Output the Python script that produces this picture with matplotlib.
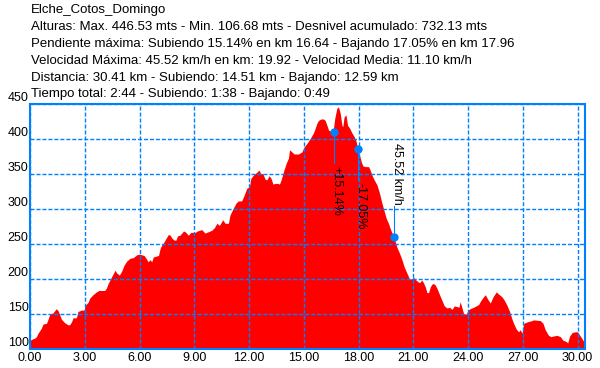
import matplotlib
matplotlib.use("Agg")
import matplotlib.pyplot as plt

plt.rcParams["font.family"] = ["Liberation Sans", "DejaVu Sans"]

title_lines = [
    "Elche_Cotos_Domingo",
    "Alturas: Max. 446.53 mts - Min. 106.68 mts - Desnivel acumulado: 732.13 mts",
    "Pendiente máxima: Subiendo 15.14% en km 16.64 - Bajando 17.05% en km 17.96",
    "Velocidad Máxima: 45.52 km/h en km: 19.92 - Velocidad Media: 11.10 km/h",
    "Distancia: 30.41 km - Subiendo: 14.51 km - Bajando: 12.59 km",
    "Tiempo total: 2:44 - Subiendo: 1:38 - Bajando: 0:49",
]

# distance (km) and altitude (m)
km = [0.00, 0.07, 0.26, 0.35, 0.44, 0.62, 0.71, 0.90, 0.99, 1.08, 1.26, 1.44, 1.54, 1.63,
      1.72, 1.90, 2.08, 2.17, 2.27, 2.36, 2.54, 2.63, 2.81, 2.96, 3.03, 3.18, 3.27, 3.45,
      3.64, 3.77, 4.09, 4.18, 4.28, 4.48, 4.66, 4.75, 4.90, 5.03, 5.15, 5.30, 5.48, 5.66,
      5.85, 6.00, 6.12, 6.25, 6.36, 6.47, 6.58, 6.67, 6.76, 7.04, 7.13, 7.22, 7.31, 7.40,
      7.58, 7.68, 7.77, 7.89, 8.00, 8.08, 8.22, 8.41, 8.50, 8.68, 8.81, 9.05, 9.17, 9.41,
      9.59, 9.78, 9.96, 10.11, 10.24, 10.38, 10.56, 10.69, 10.87, 10.96, 11.15, 11.29,
      11.42, 11.60, 11.70, 11.88, 12.02, 12.10, 12.24, 12.43, 12.54, 12.65, 12.76, 12.88,
      12.98, 13.10, 13.21, 13.31, 13.43, 13.58, 13.67, 13.76, 13.89, 14.04, 14.16, 14.22,
      14.35, 14.47, 14.71, 14.90, 15.02, 15.17, 15.35, 15.53, 15.63, 15.72, 15.81, 15.94,
      16.08, 16.17, 16.27, 16.36, 16.45, 16.60, 16.70, 16.81, 16.90, 17.00, 17.09, 17.14,
      17.21, 17.31, 17.40, 17.51, 17.64, 17.76, 17.87, 17.95, 18.05, 18.15, 18.24, 18.37,
      18.55, 18.64, 18.73, 18.86, 19.01, 19.15, 19.28, 19.41, 19.52, 19.64, 19.77, 19.92,
      20.01, 20.10, 20.25, 20.38, 20.50, 20.65, 20.80, 20.93, 21.02, 21.10, 21.24, 21.34,
      21.47, 21.56, 21.66, 21.75, 21.84, 21.93, 22.02, 22.11, 22.20, 22.30, 22.44, 22.57,
      22.70, 22.85, 22.99, 23.12, 23.25, 23.40, 23.50, 23.57, 23.66, 23.76, 23.90, 24.00,
      24.12, 24.30, 24.45, 24.58, 24.71, 24.85, 24.95, 25.07, 25.22, 25.37, 25.55, 25.67,
      25.86, 25.99, 26.13, 26.28, 26.41, 26.50, 26.64, 26.77, 26.86, 26.96, 27.05, 27.23,
      27.50, 27.59, 27.96, 28.11, 28.23, 28.41, 28.54, 28.69, 28.87, 29.06, 29.20, 29.39,
      29.46, 29.57, 29.71, 29.88, 30.00, 30.15, 30.30, 30.41]
alt = [112, 114, 116, 118, 123, 130, 136, 137, 143, 150, 152, 158, 155, 149,
       143, 138, 135, 135, 139, 145, 145, 154, 156, 156, 163, 167, 173, 178,
       182, 184, 184, 187, 194, 204, 213, 209, 206, 212, 220, 226, 230, 231,
       235, 236, 235, 234, 230, 225, 228, 225, 232, 234, 244, 249, 252, 256,
       264, 263, 259, 256, 256, 262, 263, 269, 268, 263, 267, 267, 269, 271,
       266, 268, 270, 274, 280, 277, 285, 280, 280, 292, 302, 309,
       312, 312, 318, 330, 332, 344, 349, 353, 356, 351, 351, 343,
       342, 348, 344, 336, 337, 337, 336, 342, 354, 366, 373, 385,
       382, 379, 379, 382, 389, 394, 401, 409, 416, 423, 427, 429,
       429, 427, 420, 413, 412, 410, 430, 444, 446.5, 437, 420, 418,
       432, 435, 420, 416, 409, 404, 397, 387, 378, 368, 362, 361,
       361, 356, 349, 342, 335, 323, 309, 297, 287, 280, 270, 262,
       254, 246, 237, 228, 218, 209, 200, 201, 203, 200, 197, 195,
       199, 195, 189, 181, 181, 189, 193, 194, 192, 187, 178, 170,
       162, 159, 160, 157, 162, 161, 160, 168, 160, 151, 150, 156,
       158, 160, 162, 164, 170, 175, 178, 172, 166, 175, 182, 179,
       175, 170, 163, 154, 143, 137, 129, 125, 128, 123, 137, 139,
       141, 142, 141, 137, 128, 120, 118, 119, 120, 118, 113, 111,
       109, 119, 124, 125, 125, 119, 113, 107]

# points of interest: max climb slope, max descent slope, max speed
mark_km = [16.64, 17.96, 19.92]
mark_alt = [410, 386, 261]
mark_txt = ["+15.14%", "-17.05%", "45.52 km/h"]

x_ticks = [0, 3, 6, 9, 12, 15, 18, 21, 24, 27, 30]
y_ticks = [100, 150, 200, 250, 300, 350, 400, 450]

blue = "#0080FF"

fig = plt.figure(figsize=(6, 3.68), dpi=100)
ax = fig.add_axes([30 / 600, 18.7 / 368, 555 / 600, 245 / 368])

ax.fill_between(km, alt, 100, color="#FF0000", linewidth=0, zorder=1)

ax.set_xlim(0, 30.41)
ax.set_ylim(100, 450)
ax.set_xticks(x_ticks)
ax.set_xticklabels([f"{v:.2f}" for v in x_ticks])
ax.set_yticks(y_ticks)
ax.set_yticklabels([str(v) for v in y_ticks])
ax.tick_params(length=0, labelsize=9, colors="black")
ax.tick_params(axis="x", pad=2)
ax.tick_params(axis="y", pad=1)
for lab in ax.get_yticklabels():
    lab.set_va("bottom")

ax.grid(True, color=blue, linestyle=(0, (2.9, 1.4)), linewidth=1.0, zorder=2)
ax.set_axisbelow(False)
for s in ax.spines.values():
    s.set_color(blue)
    s.set_linewidth(1.5)

# markers with leader lines and vertical labels
lead = 44
for i, (x, y, t) in enumerate(zip(mark_km, mark_alt, mark_txt)):
    if i < 2:
        ax.plot([x, x], [y, y - lead], color=blue, linewidth=0.8, zorder=3)
        ax.text(x, y - lead - 4, t, rotation=270, rotation_mode="anchor",
                ha="left", va="baseline", fontsize=9, zorder=4)
    else:
        ax.plot([x, x], [y, y + lead], color=blue, linewidth=0.8, zorder=3)
        ax.text(x, y + lead + 1, t, rotation=270, rotation_mode="anchor",
                ha="right", va="baseline", fontsize=9, zorder=4)
ax.plot(mark_km, mark_alt, "o", color=blue, markersize=5, zorder=5)

for i, line in enumerate(title_lines):
    fig.text(31 / 600, 1 - (10 + i * 16.9) / 368, line, fontsize=9.5,
             ha="left", va="center")

fig.savefig("out.png", dpi=100)
